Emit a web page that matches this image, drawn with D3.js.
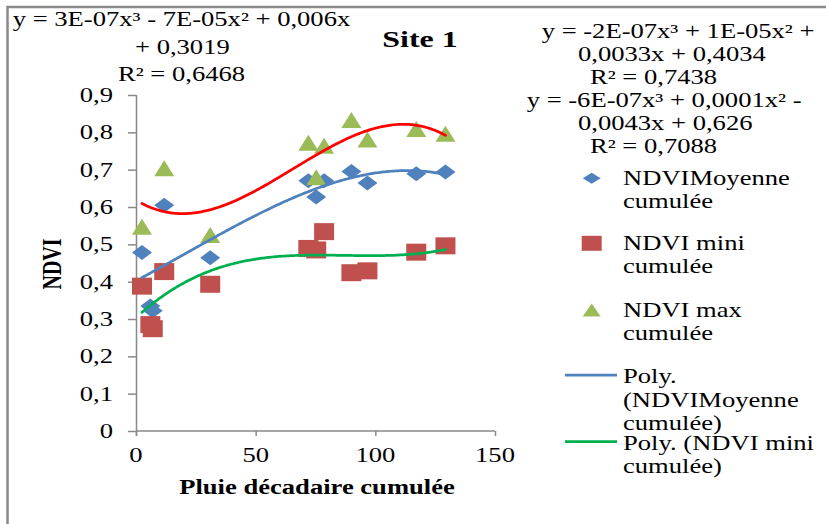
<!DOCTYPE html>
<html>
<head>
<meta charset="utf-8">
<script src="https://cdn.jsdelivr.net/npm/d3@7"></script>
<style>
  html, body { margin: 0; padding: 0; background: #fff; }
  svg { display: block; }
  text { font-family: "Liberation Serif", "Times New Roman", serif; fill: #000; }
</style>
</head>
<body>
<svg id="chart" width="826" height="524"></svg>
<script>
// Cumulated dekadal rainfall (x) and cumulated NDVI values
const rain      = [2.5, 6, 7, 11.8, 31, 72, 75.3, 78.6, 90, 96.7, 117.1, 129.3];
const ndviMean  = [0.478, 0.335, 0.322, 0.605, 0.464, 0.670, 0.627, 0.670, 0.695, 0.664, 0.689, 0.694];
const ndviMin   = [0.388, 0.285, 0.274, 0.427, 0.393, 0.489, 0.485, 0.534, 0.424, 0.429, 0.479, 0.496];
const ndviMax   = [0.547, null, null, 0.704, 0.525, 0.772, 0.680, 0.764, 0.833, 0.781, 0.809, 0.796];

const xTicks = [0, 50, 100, 150];
const yTicks = [0, 0.1, 0.2, 0.3, 0.4, 0.5, 0.6, 0.7, 0.8, 0.9];

const eqMin  = ["y = 3E-07x³ - 7E-05x² + 0,006x", "+ 0,3019", "R² = 0,6468"];
const eqMean = ["y = -2E-07x³ + 1E-05x² +", "0,0033x + 0,4034", "R² = 0,7438"];
const eqMax  = ["y = -6E-07x³ + 0,0001x² -", "0,0043x + 0,626", "R² = 0,7088"];

const COL = { mean: "#4F81BD", min: "#C0504D", max: "#9BBB59",
              trendMean: "#4F81BD", trendMin: "#00B050", trendMax: "#FF0000", axis: "#898989" };
const SX = 1.33;      // horizontal stretch applied to all lettering
const FS = 20;

const svg = d3.select("#chart");

// outer frame (open on the right and bottom)
svg.append("path")
  .attr("d", "M7.5,530 L7.5,7 L830,7")
  .attr("fill", "none").attr("stroke", COL.axis).attr("stroke-width", 2.5);

const x = d3.scaleLinear().domain([0, 150]).range([136, 495]);
const y = d3.scaleLinear().domain([0, 0.9]).range([431, 95]);

// text helper: draws a stretched label
function label(str, px, py, opts = {}) {
  const t = svg.append("text")
    .attr("transform", `translate(${px},${py}) scale(${opts.sx || SX},1)` + (opts.rotate ? ` rotate(${opts.rotate})` : ""))
    .attr("text-anchor", opts.anchor || "start")
    .attr("font-size", opts.size || FS)
    .attr("font-weight", opts.bold ? "bold" : "normal")
    .text(str);
  return t;
}

// axes
const gx = svg.append("g").attr("transform", "translate(0,431)")
  .call(d3.axisBottom(x).tickValues(xTicks).tickSize(5).tickFormat(""));
const gy = svg.append("g").attr("transform", "translate(136,0)")
  .call(d3.axisLeft(y).tickValues(yTicks).tickSize(8).tickFormat(""));
[gx, gy].forEach(g => {
  g.selectAll("path, line").attr("stroke", COL.axis).attr("stroke-width", 1.5);
  g.select(".domain").attr("d", g === gx ? "M136,0.5H495" : "M0.5,95V436");
});
gx.select(".domain").attr("d", "M0,0.5H495").attr("transform", null);
gx.select(".domain").attr("d", "M136,0H495");

const fmt = v => d3.format(".1f")(v).replace(".", ",").replace(/^0,0$/, "0");
yTicks.forEach(v => label(v === 0 ? "0" : fmt(v), 113, y(v) + 7, { anchor: "end" }));
xTicks.forEach(v => label(String(v), x(v), 462, { anchor: "middle" }));

// axis titles & chart title
label("Pluie décadaire cumulée", 317, 494, { anchor: "middle", bold: true });
label("NDVI", 61, 264, { anchor: "middle", bold: true, rotate: -90 });
label("Site 1", 420, 47, { anchor: "middle", bold: true, size: 24 });

// least squares cubic polynomial trend
function cubicFit(xs, ys) {
  const pts = xs.map((v, i) => [v, ys[i]]).filter(p => p[1] != null);
  const n = 4, A = [];
  for (let r = 0; r < n; r++) {
    A.push([]);
    for (let c = 0; c < n; c++) A[r].push(d3.sum(pts, p => Math.pow(p[0], r + c)));
    A[r].push(d3.sum(pts, p => p[1] * Math.pow(p[0], r)));
  }
  for (let i = 0; i < n; i++) {
    let m = i;
    for (let k = i + 1; k < n; k++) if (Math.abs(A[k][i]) > Math.abs(A[m][i])) m = k;
    [A[i], A[m]] = [A[m], A[i]];
    for (let k = i + 1; k < n; k++) {
      const f = A[k][i] / A[i][i];
      for (let j = i; j <= n; j++) A[k][j] -= f * A[i][j];
    }
  }
  const c = new Array(n).fill(0);
  for (let i = n - 1; i >= 0; i--) {
    let s = A[i][n];
    for (let j = i + 1; j < n; j++) s -= A[i][j] * c[j];
    c[i] = s / A[i][i];
  }
  const xmin = d3.min(pts, p => p[0]), xmax = d3.max(pts, p => p[0]);
  return d3.range(0, 201).map(i => {
    const xv = xmin + (xmax - xmin) * i / 200;
    return [xv, c[0] + c[1] * xv + c[2] * xv * xv + c[3] * xv * xv * xv];
  });
}

const line = d3.line().x(d => x(d[0])).y(d => y(d[1])).curve(d3.curveLinear);

// marker shapes
const diamond = (w, h) => `M0,${-h / 2}L${w / 2},0L0,${h / 2}L${-w / 2},0Z`;
const square  = (w, h) => `M${-w / 2},${-h / 2}h${w}v${h}h${-w}Z`;
const tri     = (w, h) => `M0,${-h / 2}L${w / 2},${h / 2}L${-w / 2},${h / 2}Z`;

function markers(vals, shape, color) {
  svg.append("g").selectAll("path")
    .data(rain.map((r, i) => [r, vals[i]]).filter(d => d[1] != null))
    .join("path")
    .attr("transform", d => `translate(${x(d[0])},${y(d[1])})`)
    .attr("d", shape)
    .attr("fill", color);
}

markers(ndviMean, diamond(20, 15), COL.mean);
markers(ndviMin, square(20, 17), COL.min);
markers(ndviMax, tri(20, 16), COL.max);

[[ndviMean, COL.trendMean], [ndviMin, COL.trendMin], [ndviMax, COL.trendMax]].forEach(([vals, col]) => {
  svg.append("path").datum(cubicFit(rain, vals))
    .attr("d", line).attr("fill", "none").attr("stroke", col)
    .attr("stroke-width", 2.75).attr("stroke-linecap", "round");
});

// trendline equations
[[eqMin[0], 12.7, 26], [eqMin[1], 135, 54], [eqMin[2], 118, 81]].forEach(([s, px, py]) => label(s, px, py));
[[eqMean[0], 541.7, 38], [eqMean[1], 578, 61], [eqMean[2], 590, 84],
 [eqMax[0], 526.7, 107], [eqMax[1], 578, 130], [eqMax[2], 590, 153]].forEach(([s, px, py]) => label(s, px, py));

// legend
const lg = svg.append("g");
lg.append("path").attr("transform", "translate(591.7,178.3)").attr("d", diamond(18, 11)).attr("fill", COL.mean);
lg.append("path").attr("transform", "translate(591.7,243.3)").attr("d", square(20, 15)).attr("fill", COL.min);
lg.append("path").attr("transform", "translate(591.7,310)").attr("d", tri(18, 13)).attr("fill", COL.max);
lg.append("line").attr("x1", 565).attr("x2", 617).attr("y1", 375).attr("y2", 375)
  .attr("stroke", COL.trendMean).attr("stroke-width", 2.75);
lg.append("line").attr("x1", 565).attr("x2", 617).attr("y1", 441.7).attr("y2", 441.7)
  .attr("stroke", COL.trendMin).attr("stroke-width", 2.75);

const legendLines = [
  ["NDVIMoyenne", 185], ["cumulée", 208],
  ["NDVI mini", 250], ["cumulée", 273],
  ["NDVI max", 317], ["cumulée", 340],
  ["Poly.", 383], ["(NDVIMoyenne", 407], ["cumulée)", 430],
  ["Poly. (NDVI mini", 450], ["cumulée)", 473]
];
legendLines.forEach(([s, py]) => label(s, 623, py));
</script>
</body>
</html>
